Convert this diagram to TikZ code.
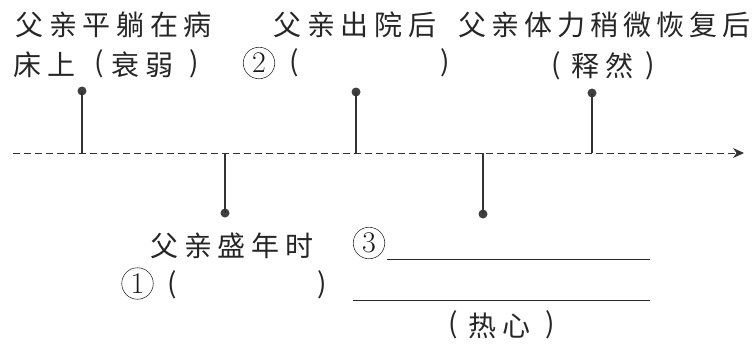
\documentclass[tikz,border=0pt]{standalone}
\usepackage{fontspec}
\newfontfamily\cjk[LetterSpace=20]{Noto Sans CJK SC}
\newfontfamily\cjkn[LetterSpace=18]{Noto Sans CJK SC}
\newfontfamily\cjkp{Noto Sans CJK SC}
\usetikzlibrary{arrows.meta}
\begin{document}
\begin{tikzpicture}[x=1pt,y=-1pt,
  txt/.style={font=\cjk\fontsize{28}{28}\selectfont, inner sep=0pt, anchor=base west, text=black!85},
  paren/.style={font=\cjkp\fontsize{28}{28}\selectfont, inner sep=0pt, anchor=center, text=black!85},
  num/.style={circle, draw=black!80, line width=0.6pt, minimum size=31.5pt, inner sep=0pt, font=\fontsize{30}{30}\selectfont, text=black!90},
  stem/.style={line width=1.3pt, draw=black!80},
  dotc/.style={circle, fill=black!75, minimum size=9pt, inner sep=0pt},
  axis/.style={line width=1pt, draw=black!80, dash pattern=on 7pt off 4pt, -{Stealth[length=11pt,width=10pt]}},
  uline/.style={line width=1pt, draw=black!85}]
\useasboundingbox (0,0) rectangle (752,349);

% axis
\coordinate (as) at (13,153);
\coordinate (ae) at (744,153);
\draw[axis] (as) -- (ae);

% stems
\node[dotc] (d1) at (82,91) {};
\coordinate (b1) at (82,153);
\draw[stem] (d1.center) -- (b1);
\node[dotc] (d2) at (225,213) {};
\coordinate (b2) at (225,153);
\draw[stem] (b2) -- (d2.center);
\node[dotc] (d3) at (356,92) {};
\coordinate (b3) at (356,153);
\draw[stem] (d3.center) -- (b3);
\node[dotc] (d4) at (483,214) {};
\coordinate (b4) at (483,153);
\draw[stem] (b4) -- (d4.center);
\node[dotc] (d5) at (592,93) {};
\coordinate (b5) at (592,153);
\draw[stem] (d5.center) -- (b5);

% text group 1
\node[txt] (t1) at (15.5,35) {父亲平躺在病};
\node[txt] (t1b) at (13.5,75) {床上};
\node[paren] (p1l) at (99.5,64) {(};
\node[txt] (t1c) at (111.5,75) {衰弱};
\node[paren] (p1r) at (194.5,64) {)};

% text group 2
\node[txt] (t2) at (273.5,35) {父亲出院后};
\node[num] (n2) at (259,63) {2};
\node[paren] (p2l) at (294.5,63) {(};
\node[paren] (p2r) at (445,63) {)};

% text group 3
\node[txt, font=\cjkn\fontsize{28}{28}\selectfont] (t3) at (458.5,35) {父亲体力稍微恢复后\kern-5pt};
\node[paren] (p3l) at (556,65.5) {(};
\node[txt] (t3b) at (571.5,76) {释然};
\node[paren] (p3r) at (650,65.5) {)};

% text group 4
\node[txt] (t4) at (150.5,256) {父亲盛年时};
\node[num] (n1) at (137.5,283.5) {1};
\node[paren] (p4l) at (172,285) {(};
\node[paren] (p4r) at (322,285) {)};

% text group 5
\node[num] (n3) at (369,243) {3};
\coordinate (u1s) at (387,259);
\coordinate (u1e) at (650,259);
\draw[uline] (u1s) -- (u1e);
\coordinate (u2s) at (353,300);
\coordinate (u2e) at (650,300);
\draw[uline] (u2s) -- (u2e);
\node[paren] (p5l) at (453,325) {(};
\node[txt] (t5) at (468.5,336) {热心};
\node[paren] (p5r) at (550,325) {)};
\end{tikzpicture}
\end{document}
